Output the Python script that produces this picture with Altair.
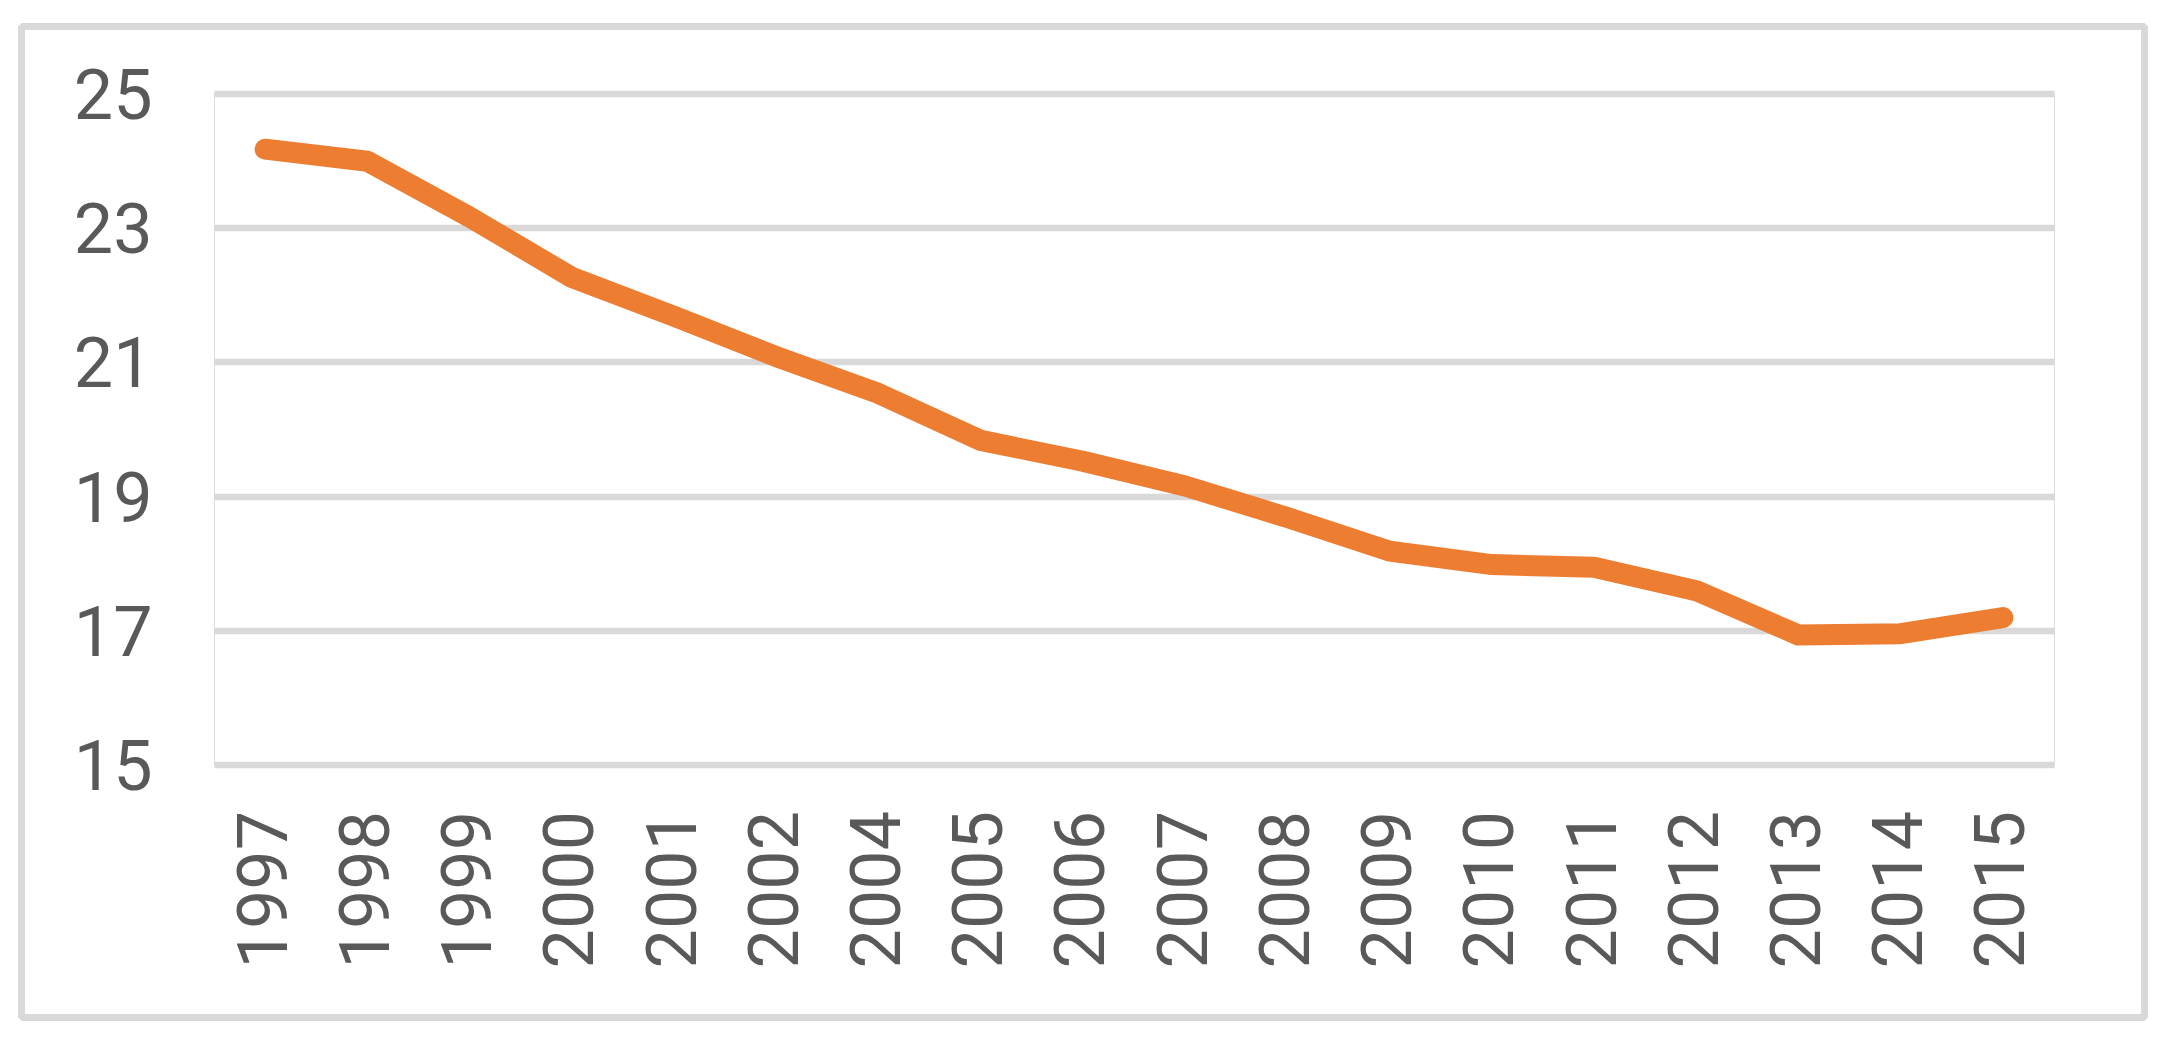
import altair as alt
import pandas as pd

years = ["1997", "1998", "1999", "2000", "2001", "2002", "2004", "2005", "2006",
         "2007", "2008", "2009", "2010", "2011", "2012", "2013", "2014", "2015"]
values = [24.17, 23.99, 23.16, 22.26, 21.68, 21.08, 20.53, 19.83, 19.52,
          19.15, 18.68, 18.18, 17.98, 17.94, 17.59, 16.93, 16.95, 17.19]
y_ticks = [15, 17, 19, 21, 23, 25]

df = pd.DataFrame({"year": years, "value": values})

FONT = "Roboto"
GRID = "#D9D9D9"
TEXT = "#595959"

base = alt.Chart(df)

line = base.mark_line(
    color="#ED7D31", strokeWidth=21, strokeCap="round", strokeJoin="round"
).encode(
    x=alt.X("year:N", sort=years, scale=alt.Scale(paddingInner=0, paddingOuter=0.5),
            axis=alt.Axis(title=None, labelAngle=270, labelAlign="right", labelBaseline="middle",
                          labelPadding=46, labelFontSize=70, labelFont=FONT, labelFontWeight=400,
                          labelColor=TEXT, ticks=False, domain=False, grid=False)),
    y=alt.Y("value:Q", scale=alt.Scale(domain=[15, 25], nice=False, zero=False),
            axis=alt.Axis(title=None, values=y_ticks, labelPadding=62, labelFontSize=70,
                          labelFont=FONT, labelFontWeight=400, labelColor=TEXT, labelOffset=4,
                          ticks=False, domain=False, grid=True, gridColor=GRID,
                          gridWidth=6.5)),
)

border = base.mark_rect(
    filled=False, stroke=GRID, strokeWidth=7, clip=False, cornerRadius=3
).encode(
    x=alt.value(-192.5), x2=alt.value(1930.5), y=alt.value(-67), y2=alt.value(924)
)

chart = alt.layer(border, line).properties(
    width=1840, height=671,
    autosize=alt.AutoSizeParams(type="none"),
    padding={"left": 206, "top": 85.5, "right": 100, "bottom": 270},
).configure_view(stroke=None).configure(background="white")

chart.save("out.html", embed_options={"renderer": "svg", "actions": False})
